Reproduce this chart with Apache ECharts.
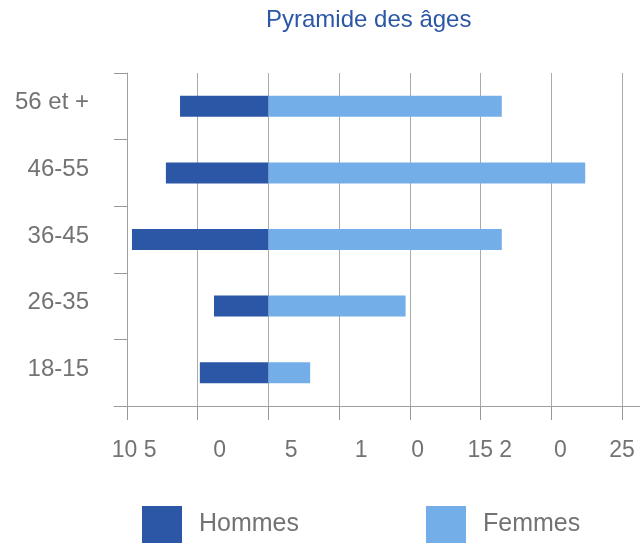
<!DOCTYPE html>
<html>
<head>
    <meta charset="utf-8">
    <title>Pyramide des âges</title>
    <script src="https://cdn.jsdelivr.net/npm/echarts@6/dist/echarts.min.js"></script>
    <style>
        html, body { margin: 0; padding: 0; background: #fff; }
    </style>
</head>
<body>
<div id="pyramide" style="width: 640px;height:543px;"></div>

<script type="text/javascript">
    // données
    var ageGroups = ['18-15', '26-35', '36-45', '46-55', '56 et +'];
    var hommes = [-4.85, -3.85, -9.65, -7.25, -6.25];
    var femmes = [2.95, 9.7, 16.5, 22.4, 16.5];

    // libellés de l'axe horizontal, tels qu'ils apparaissent
    var xLabelText = ['10 5', '0', '5', '1', '0', '15 2', '0', '25'];
    var xLabelAt = [-9.5, -3.45, 1.6, 6.55, 10.55, 15.65, 20.65, 25];

    var font = 'Liberation Sans, Arial, Helvetica, sans-serif';
    var gris = '#737373';
    var foncé = '#2b57a6';
    var clair = '#74aee8';

    var chart = echarts.init(document.getElementById('pyramide'));

    var option = {
        animation: false,
        title: {
            text: 'Pyramide des âges',
            left: 261,
            top: 3,
            textStyle: { color: foncé, fontSize: 24, fontWeight: 'normal', fontFamily: font }
        },
        legend: {
            left: 142,
            top: 506,
            padding: 0,
            itemWidth: 40,
            itemHeight: 37,
            itemGap: 127,
            icon: 'rect',
            textStyle: { color: gris, fontSize: 25, fontFamily: font, padding: [0, 0, 0, 12] },
            data: ['Hommes', 'Femmes']
        },
        grid: [
            { left: 127, right: 18, top: 73, bottom: 137 },
            // seulement pour prolonger la ligne de l'axe horizontal
            { left: 114, right: 0, top: 73, bottom: 137 }
        ],
        xAxis: [{
            type: 'value',
            gridIndex: 0,
            min: -10,
            max: 25,
            interval: 5,
            axisLine: { show: false },
            axisTick: { show: true, length: 14, lineStyle: { color: '#999' } },
            splitLine: { show: true, lineStyle: { color: '#aaaaaa', width: 1 } },
            axisLabel: {
                customValues: xLabelAt,
                margin: 33,
                color: gris,
                fontSize: 23,
                fontFamily: font,
                formatter: function (value) {
                    for (var i = 0; i < xLabelAt.length; i++) {
                        if (Math.abs(xLabelAt[i] - value) < 1e-6) return xLabelText[i];
                    }
                    return '';
                }
            }
        }, {
            type: 'value',
            gridIndex: 1,
            min: 0,
            max: 1,
            axisLine: { show: true, lineStyle: { color: '#a0a0a0', width: 1 } },
            axisTick: { show: false },
            axisLabel: { show: false },
            splitLine: { show: false }
        }],
        yAxis: [{
            type: 'category',
            gridIndex: 0,
            data: ageGroups,
            axisLine: { show: true, onZero: false, lineStyle: { color: '#a0a0a0' } },
            axisTick: { show: true, length: 13, lineStyle: { color: '#999' } },
            axisLabel: {
                margin: 38,
                color: gris,
                fontSize: 24,
                fontFamily: font,
                formatter: function (value) {
                    return '{a|' + value + '}';
                },
                rich: {
                    a: { color: gris, fontSize: 24, fontFamily: font, padding: [0, 0, 7, 0] }
                }
            }
        }, {
            type: 'value',
            gridIndex: 1,
            show: false
        }],
        series: [{
            name: 'Hommes',
            type: 'bar',
            stack: 'total',
            barWidth: 21,
            itemStyle: { color: foncé },
            data: hommes
        }, {
            name: 'Femmes',
            type: 'bar',
            stack: 'total',
            barWidth: 21,
            itemStyle: { color: clair },
            data: femmes
        }]
    };

    chart.setOption(option);
</script>
</body>
</html>
